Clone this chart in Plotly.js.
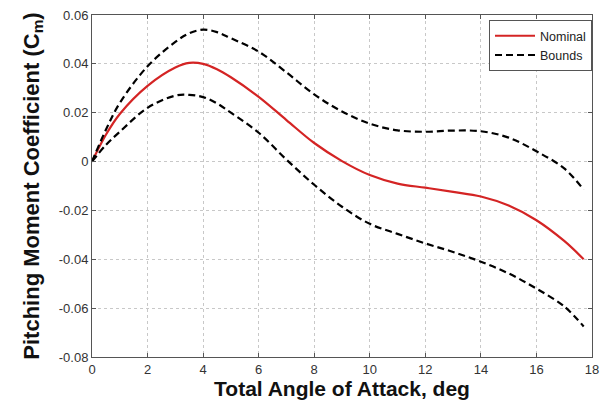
<!DOCTYPE html>
<html>
<head>
<meta charset="utf-8">
<script src="https://cdn.plot.ly/plotly-3.0.1.min.js"></script>
<style>html,body{margin:0;padding:0;background:#fff;}#chart{width:602px;height:400px;}</style>
</head>
<body>
<div id="chart"></div>
<script>
const alpha = [0, 0.5, 1, 2, 3, 3.5, 4, 4.5, 5, 6, 7, 8, 9, 10, 11, 12, 13, 14, 15, 16, 17, 17.7];
const nominal = [0, 0.011, 0.0195, 0.031, 0.0385, 0.0404, 0.0400, 0.0378, 0.0345, 0.0265, 0.017, 0.0076, 0.0002, -0.0055, -0.009, -0.0107, -0.0124, -0.0143, -0.018, -0.024, -0.0325, -0.040];
const upper = [0, 0.013, 0.024, 0.039, 0.049, 0.0525, 0.0540, 0.053, 0.0505, 0.045, 0.0365, 0.0275, 0.0205, 0.0155, 0.0128, 0.0122, 0.0127, 0.0124, 0.0098, 0.0042, -0.0028, -0.0115];
const lower = [0, 0.0068, 0.0122, 0.022, 0.027, 0.0273, 0.0264, 0.0238, 0.020, 0.0118, 0.0008, -0.0095, -0.0185, -0.0255, -0.0296, -0.0335, -0.037, -0.041, -0.0458, -0.052, -0.0593, -0.0675];
const xTicks = [0, 2, 4, 6, 8, 10, 12, 14, 16, 18];
const xTickText = ['0', '2', '4', '6', '8', '10', '12', '14', '16', '18'];
const yTicks = [0.06, 0.04, 0.02, 0, -0.02, -0.04, -0.06, -0.08];
const yTickText = ['0.06', '0.04', '0.02', '0', '-0.02', '-0.04', '-0.06', '-0.08'];

const traces = [
  {x: alpha, y: nominal, mode: 'lines', name: 'Nominal',
   line: {color: '#d42424', width: 2.2, shape: 'spline', smoothing: 1}},
  {x: alpha, y: upper, mode: 'lines', name: 'Bounds',
   line: {color: '#000', width: 2.2, dash: '7px,4px', shape: 'spline', smoothing: 1}},
  {x: alpha, y: lower, mode: 'lines', name: 'Bounds', showlegend: false,
   line: {color: '#000', width: 2.2, dash: '7px,4px', shape: 'spline', smoothing: 1}}
];

const axisCommon = {
  showline: true, mirror: 'ticks', linecolor: '#555', linewidth: 1,
  ticks: 'inside', ticklen: 4, tickcolor: '#555',
  showgrid: true, gridcolor: '#c8c8c8', griddash: 'dot', gridwidth: 1,
  zeroline: false, tickmode: 'array',
  tickfont: {family: 'Liberation Sans, Arial, sans-serif', size: 13, color: '#333'}
};

const layout = {
  width: 602, height: 400,
  margin: {l: 92, r: 10, t: 15, b: 43},
  paper_bgcolor: '#fff', plot_bgcolor: '#fff',
  showlegend: true,
  legend: {x: 1, y: 0.985, xanchor: 'right', yanchor: 'top',
    bgcolor: '#fff', bordercolor: '#555', borderwidth: 1,
    font: {family: 'Liberation Sans, Arial, sans-serif', size: 12.5, color: '#222'},
    itemwidth: 40, tracegroupgap: 0},
  xaxis: Object.assign({}, axisCommon, {
    range: [0, 18], tickvals: xTicks, ticktext: xTickText,
    title: {text: '<b>Total Angle of Attack, deg</b>', standoff: 4,
      font: {family: 'Liberation Sans, Arial, sans-serif', size: 21, color: '#111'}}
  }),
  yaxis: Object.assign({}, axisCommon, {
    range: [-0.08, 0.06], tickvals: yTicks, ticktext: yTickText,
    title: {text: '<b>Pitching Moment Coefficient (C<sub>m</sub>)</b>', standoff: 13,
      font: {family: 'Liberation Sans, Arial, sans-serif', size: 22, color: '#111'}}
  })
};

Plotly.newPlot('chart', traces, layout, {displayModeBar: false, staticPlot: true});
</script>
</body>
</html>
